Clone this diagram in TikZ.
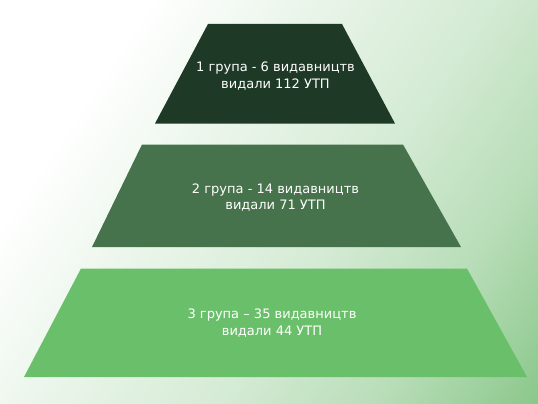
\documentclass[tikz,border=0pt]{standalone}
\usepackage{fontspec}
\setmainfont{DejaVu Sans}
\usepackage{tikz}

\definecolor{levelone}{RGB}{30,58,38}
\definecolor{leveltwo}{RGB}{70,115,75}
\definecolor{levelthree}{RGB}{106,191,106}
\definecolor{bgpale}{RGB}{234,245,234}
\definecolor{bglight}{RGB}{213,235,213}
\definecolor{bgmid}{RGB}{184,221,184}
\definecolor{bgdeep}{RGB}{138,199,138}
\definecolor{bgcorner}{RGB}{115,188,115}

\pgfdeclarehorizontalshading{pagebg}{100bp}{color(0bp)=(white); color(28bp)=(white); color(42bp)=(bgpale); color(57bp)=(bglight); color(71bp)=(bgmid); color(85bp)=(bgdeep); color(100bp)=(bgcorner)}

\tikzset{
	leveltext/.style={
		align = center,
		text = white,
		inner sep = 0pt,
		font = \fontsize{13}{16.5}\selectfont
	}
}

\begin{document}
\begin{tikzpicture}[x=1pt,y=-1pt]
		\useasboundingbox (0,0) rectangle (538,404);
		\shade[shading=pagebg, shading angle=-33.7] (0,0) rectangle (538,404);

		% pyramid levels
		\fill[levelone] (208,24) -- (342,24) -- (395,123.5) -- (155,123.5) -- cycle;
		\fill[leveltwo] (142,144.5) -- (403,144.5) -- (461,247) -- (92,247) -- cycle;
		\fill[levelthree] (81,268.5) -- (467,268.5) -- (527,377) -- (24,377) -- cycle;

		\node[leveltext] (top) at (275.5,76) {1 група - 6 видавництв\\видали 112 УТП};
		\node[leveltext] (middle) at (275.5,197.5) {2 група - 14 видавництв\\видали 71 УТП};
		\node[leveltext] (base) at (272,323) {3 група – 35 видавництв\\видали 44 УТП};

	\end{tikzpicture}
\end{document}
